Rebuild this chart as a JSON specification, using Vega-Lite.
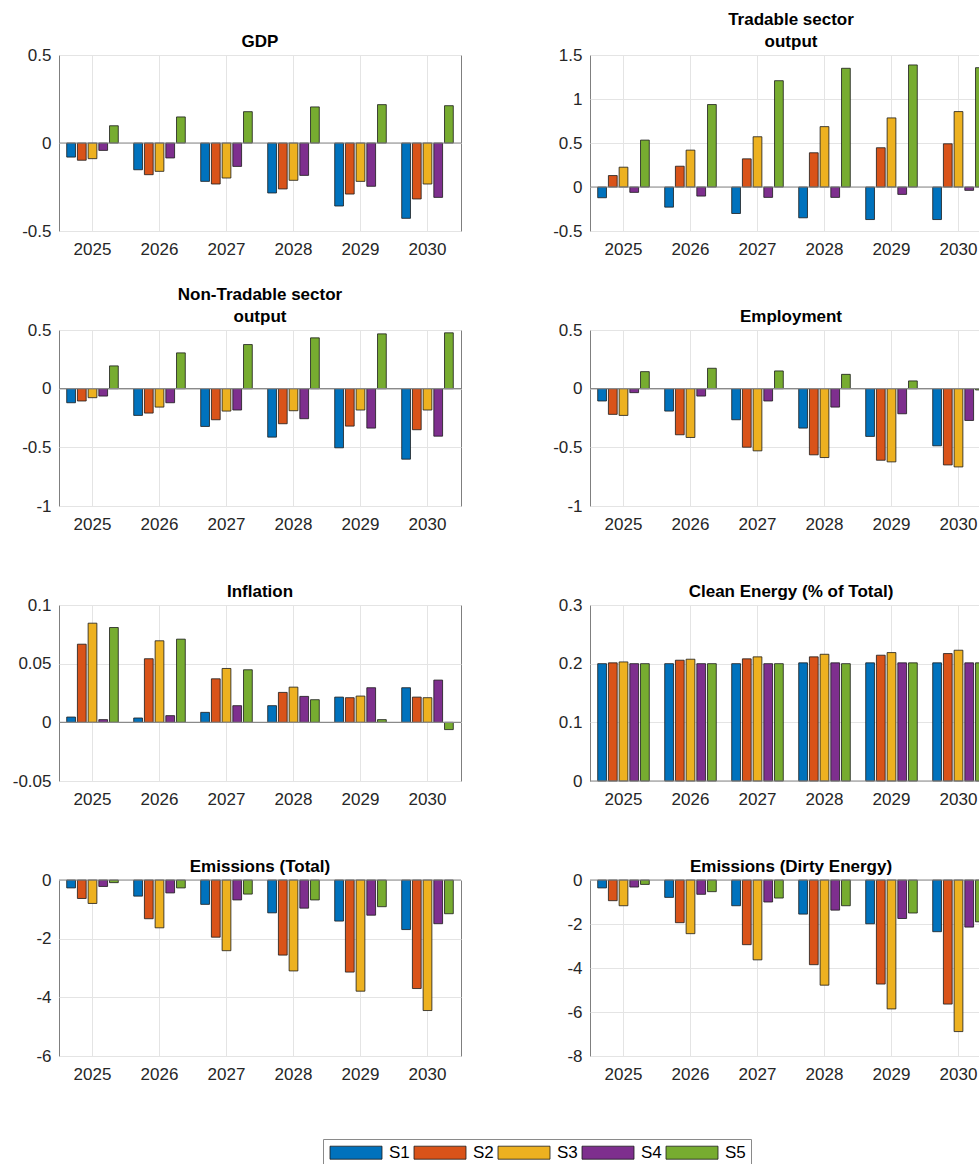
{
  "$schema": "https://vega.github.io/schema/vega-lite/v6.json",
  "padding": {"left": 11, "top": 10, "right": 0, "bottom": 0},
  "data": {"values": [
    {"p":"GDP","y":"2025","s":"S1","v":-0.08},{"p":"GDP","y":"2025","s":"S2","v":-0.098},{"p":"GDP","y":"2025","s":"S3","v":-0.089},{"p":"GDP","y":"2025","s":"S4","v":-0.042},{"p":"GDP","y":"2025","s":"S5","v":0.098},
    {"p":"GDP","y":"2026","s":"S1","v":-0.152},{"p":"GDP","y":"2026","s":"S2","v":-0.18},{"p":"GDP","y":"2026","s":"S3","v":-0.161},{"p":"GDP","y":"2026","s":"S4","v":-0.085},{"p":"GDP","y":"2026","s":"S5","v":0.148},
    {"p":"GDP","y":"2027","s":"S1","v":-0.218},{"p":"GDP","y":"2027","s":"S2","v":-0.233},{"p":"GDP","y":"2027","s":"S3","v":-0.199},{"p":"GDP","y":"2027","s":"S4","v":-0.133},{"p":"GDP","y":"2027","s":"S5","v":0.178},
    {"p":"GDP","y":"2028","s":"S1","v":-0.284},{"p":"GDP","y":"2028","s":"S2","v":-0.261},{"p":"GDP","y":"2028","s":"S3","v":-0.212},{"p":"GDP","y":"2028","s":"S4","v":-0.184},{"p":"GDP","y":"2028","s":"S5","v":0.205},
    {"p":"GDP","y":"2029","s":"S1","v":-0.358},{"p":"GDP","y":"2029","s":"S2","v":-0.29},{"p":"GDP","y":"2029","s":"S3","v":-0.218},{"p":"GDP","y":"2029","s":"S4","v":-0.246},{"p":"GDP","y":"2029","s":"S5","v":0.218},
    {"p":"GDP","y":"2030","s":"S1","v":-0.428},{"p":"GDP","y":"2030","s":"S2","v":-0.318},{"p":"GDP","y":"2030","s":"S3","v":-0.233},{"p":"GDP","y":"2030","s":"S4","v":-0.309},{"p":"GDP","y":"2030","s":"S5","v":0.212},

    {"p":"TR","y":"2025","s":"S1","v":-0.122},{"p":"TR","y":"2025","s":"S2","v":0.13},{"p":"TR","y":"2025","s":"S3","v":0.225},{"p":"TR","y":"2025","s":"S4","v":-0.061},{"p":"TR","y":"2025","s":"S5","v":0.533},
    {"p":"TR","y":"2026","s":"S1","v":-0.229},{"p":"TR","y":"2026","s":"S2","v":0.236},{"p":"TR","y":"2026","s":"S3","v":0.419},{"p":"TR","y":"2026","s":"S4","v":-0.103},{"p":"TR","y":"2026","s":"S5","v":0.937},
    {"p":"TR","y":"2027","s":"S1","v":-0.301},{"p":"TR","y":"2027","s":"S2","v":0.32},{"p":"TR","y":"2027","s":"S3","v":0.571},{"p":"TR","y":"2027","s":"S4","v":-0.118},{"p":"TR","y":"2027","s":"S5","v":1.208},
    {"p":"TR","y":"2028","s":"S1","v":-0.35},{"p":"TR","y":"2028","s":"S2","v":0.389},{"p":"TR","y":"2028","s":"S3","v":0.686},{"p":"TR","y":"2028","s":"S4","v":-0.118},{"p":"TR","y":"2028","s":"S5","v":1.349},
    {"p":"TR","y":"2029","s":"S1","v":-0.37},{"p":"TR","y":"2029","s":"S2","v":0.446},{"p":"TR","y":"2029","s":"S3","v":0.785},{"p":"TR","y":"2029","s":"S4","v":-0.084},{"p":"TR","y":"2029","s":"S5","v":1.387},
    {"p":"TR","y":"2030","s":"S1","v":-0.37},{"p":"TR","y":"2030","s":"S2","v":0.491},{"p":"TR","y":"2030","s":"S3","v":0.857},{"p":"TR","y":"2030","s":"S4","v":-0.038},{"p":"TR","y":"2030","s":"S5","v":1.356},

    {"p":"NT","y":"2025","s":"S1","v":-0.12},{"p":"NT","y":"2025","s":"S2","v":-0.105},{"p":"NT","y":"2025","s":"S3","v":-0.077},{"p":"NT","y":"2025","s":"S4","v":-0.063},{"p":"NT","y":"2025","s":"S5","v":0.194},
    {"p":"NT","y":"2026","s":"S1","v":-0.228},{"p":"NT","y":"2026","s":"S2","v":-0.208},{"p":"NT","y":"2026","s":"S3","v":-0.157},{"p":"NT","y":"2026","s":"S4","v":-0.12},{"p":"NT","y":"2026","s":"S5","v":0.305},
    {"p":"NT","y":"2027","s":"S1","v":-0.322},{"p":"NT","y":"2027","s":"S2","v":-0.265},{"p":"NT","y":"2027","s":"S3","v":-0.191},{"p":"NT","y":"2027","s":"S4","v":-0.182},{"p":"NT","y":"2027","s":"S5","v":0.376},
    {"p":"NT","y":"2028","s":"S1","v":-0.413},{"p":"NT","y":"2028","s":"S2","v":-0.299},{"p":"NT","y":"2028","s":"S3","v":-0.188},{"p":"NT","y":"2028","s":"S4","v":-0.256},{"p":"NT","y":"2028","s":"S5","v":0.433},
    {"p":"NT","y":"2029","s":"S1","v":-0.504},{"p":"NT","y":"2029","s":"S2","v":-0.319},{"p":"NT","y":"2029","s":"S3","v":-0.182},{"p":"NT","y":"2029","s":"S4","v":-0.336},{"p":"NT","y":"2029","s":"S5","v":0.467},
    {"p":"NT","y":"2030","s":"S1","v":-0.601},{"p":"NT","y":"2030","s":"S2","v":-0.35},{"p":"NT","y":"2030","s":"S3","v":-0.182},{"p":"NT","y":"2030","s":"S4","v":-0.405},{"p":"NT","y":"2030","s":"S5","v":0.476},

    {"p":"EM","y":"2025","s":"S1","v":-0.105},{"p":"EM","y":"2025","s":"S2","v":-0.219},{"p":"EM","y":"2025","s":"S3","v":-0.228},{"p":"EM","y":"2025","s":"S4","v":-0.034},{"p":"EM","y":"2025","s":"S5","v":0.145},
    {"p":"EM","y":"2026","s":"S1","v":-0.191},{"p":"EM","y":"2026","s":"S2","v":-0.393},{"p":"EM","y":"2026","s":"S3","v":-0.416},{"p":"EM","y":"2026","s":"S4","v":-0.063},{"p":"EM","y":"2026","s":"S5","v":0.174},
    {"p":"EM","y":"2027","s":"S1","v":-0.265},{"p":"EM","y":"2027","s":"S2","v":-0.499},{"p":"EM","y":"2027","s":"S3","v":-0.53},{"p":"EM","y":"2027","s":"S4","v":-0.105},{"p":"EM","y":"2027","s":"S5","v":0.151},
    {"p":"EM","y":"2028","s":"S1","v":-0.336},{"p":"EM","y":"2028","s":"S2","v":-0.564},{"p":"EM","y":"2028","s":"S3","v":-0.587},{"p":"EM","y":"2028","s":"S4","v":-0.157},{"p":"EM","y":"2028","s":"S5","v":0.122},
    {"p":"EM","y":"2029","s":"S1","v":-0.407},{"p":"EM","y":"2029","s":"S2","v":-0.61},{"p":"EM","y":"2029","s":"S3","v":-0.624},{"p":"EM","y":"2029","s":"S4","v":-0.214},{"p":"EM","y":"2029","s":"S5","v":0.066},
    {"p":"EM","y":"2030","s":"S1","v":-0.487},{"p":"EM","y":"2030","s":"S2","v":-0.65},{"p":"EM","y":"2030","s":"S3","v":-0.667},{"p":"EM","y":"2030","s":"S4","v":-0.271},{"p":"EM","y":"2030","s":"S5","v":-0.011},

    {"p":"IN","y":"2025","s":"S1","v":0.0045},{"p":"IN","y":"2025","s":"S2","v":0.0666},{"p":"IN","y":"2025","s":"S3","v":0.0845},{"p":"IN","y":"2025","s":"S4","v":0.0023},{"p":"IN","y":"2025","s":"S5","v":0.0808},
    {"p":"IN","y":"2026","s":"S1","v":0.0037},{"p":"IN","y":"2026","s":"S2","v":0.0542},{"p":"IN","y":"2026","s":"S3","v":0.0695},{"p":"IN","y":"2026","s":"S4","v":0.0057},{"p":"IN","y":"2026","s":"S5","v":0.0709},
    {"p":"IN","y":"2027","s":"S1","v":0.0085},{"p":"IN","y":"2027","s":"S2","v":0.0371},{"p":"IN","y":"2027","s":"S3","v":0.0459},{"p":"IN","y":"2027","s":"S4","v":0.0142},{"p":"IN","y":"2027","s":"S5","v":0.0448},
    {"p":"IN","y":"2028","s":"S1","v":0.0142},{"p":"IN","y":"2028","s":"S2","v":0.0255},{"p":"IN","y":"2028","s":"S3","v":0.030},{"p":"IN","y":"2028","s":"S4","v":0.0221},{"p":"IN","y":"2028","s":"S5","v":0.0193},
    {"p":"IN","y":"2029","s":"S1","v":0.0215},{"p":"IN","y":"2029","s":"S2","v":0.021},{"p":"IN","y":"2029","s":"S3","v":0.0224},{"p":"IN","y":"2029","s":"S4","v":0.0295},{"p":"IN","y":"2029","s":"S5","v":0.0023},
    {"p":"IN","y":"2030","s":"S1","v":0.0295},{"p":"IN","y":"2030","s":"S2","v":0.0215},{"p":"IN","y":"2030","s":"S3","v":0.021},{"p":"IN","y":"2030","s":"S4","v":0.036},{"p":"IN","y":"2030","s":"S5","v":-0.0062},

    {"p":"CE","y":"2025","s":"S1","v":0.2},{"p":"CE","y":"2025","s":"S2","v":0.2014},{"p":"CE","y":"2025","s":"S3","v":0.203},{"p":"CE","y":"2025","s":"S4","v":0.2},{"p":"CE","y":"2025","s":"S5","v":0.2},
    {"p":"CE","y":"2026","s":"S1","v":0.2},{"p":"CE","y":"2026","s":"S2","v":0.2059},{"p":"CE","y":"2026","s":"S3","v":0.2076},{"p":"CE","y":"2026","s":"S4","v":0.2},{"p":"CE","y":"2026","s":"S5","v":0.2},
    {"p":"CE","y":"2027","s":"S1","v":0.2},{"p":"CE","y":"2027","s":"S2","v":0.2082},{"p":"CE","y":"2027","s":"S3","v":0.2116},{"p":"CE","y":"2027","s":"S4","v":0.2},{"p":"CE","y":"2027","s":"S5","v":0.2},
    {"p":"CE","y":"2028","s":"S1","v":0.2014},{"p":"CE","y":"2028","s":"S2","v":0.2116},{"p":"CE","y":"2028","s":"S3","v":0.216},{"p":"CE","y":"2028","s":"S4","v":0.2014},{"p":"CE","y":"2028","s":"S5","v":0.2},
    {"p":"CE","y":"2029","s":"S1","v":0.2014},{"p":"CE","y":"2029","s":"S2","v":0.2144},{"p":"CE","y":"2029","s":"S3","v":0.2189},{"p":"CE","y":"2029","s":"S4","v":0.2014},{"p":"CE","y":"2029","s":"S5","v":0.2014},
    {"p":"CE","y":"2030","s":"S1","v":0.2014},{"p":"CE","y":"2030","s":"S2","v":0.2172},{"p":"CE","y":"2030","s":"S3","v":0.2229},{"p":"CE","y":"2030","s":"S4","v":0.2014},{"p":"CE","y":"2030","s":"S5","v":0.2014},

    {"p":"ET","y":"2025","s":"S1","v":-0.27},{"p":"ET","y":"2025","s":"S2","v":-0.63},{"p":"ET","y":"2025","s":"S3","v":-0.8},{"p":"ET","y":"2025","s":"S4","v":-0.22},{"p":"ET","y":"2025","s":"S5","v":-0.09},
    {"p":"ET","y":"2026","s":"S1","v":-0.55},{"p":"ET","y":"2026","s":"S2","v":-1.32},{"p":"ET","y":"2026","s":"S3","v":-1.63},{"p":"ET","y":"2026","s":"S4","v":-0.44},{"p":"ET","y":"2026","s":"S5","v":-0.27},
    {"p":"ET","y":"2027","s":"S1","v":-0.83},{"p":"ET","y":"2027","s":"S2","v":-1.95},{"p":"ET","y":"2027","s":"S3","v":-2.41},{"p":"ET","y":"2027","s":"S4","v":-0.68},{"p":"ET","y":"2027","s":"S5","v":-0.48},
    {"p":"ET","y":"2028","s":"S1","v":-1.12},{"p":"ET","y":"2028","s":"S2","v":-2.56},{"p":"ET","y":"2028","s":"S3","v":-3.1},{"p":"ET","y":"2028","s":"S4","v":-0.96},{"p":"ET","y":"2028","s":"S5","v":-0.68},
    {"p":"ET","y":"2029","s":"S1","v":-1.4},{"p":"ET","y":"2029","s":"S2","v":-3.14},{"p":"ET","y":"2029","s":"S3","v":-3.79},{"p":"ET","y":"2029","s":"S4","v":-1.2},{"p":"ET","y":"2029","s":"S5","v":-0.91},
    {"p":"ET","y":"2030","s":"S1","v":-1.69},{"p":"ET","y":"2030","s":"S2","v":-3.7},{"p":"ET","y":"2030","s":"S3","v":-4.45},{"p":"ET","y":"2030","s":"S4","v":-1.49},{"p":"ET","y":"2030","s":"S5","v":-1.15},

    {"p":"ED","y":"2025","s":"S1","v":-0.36},{"p":"ED","y":"2025","s":"S2","v":-0.94},{"p":"ED","y":"2025","s":"S3","v":-1.17},{"p":"ED","y":"2025","s":"S4","v":-0.32},{"p":"ED","y":"2025","s":"S5","v":-0.2},
    {"p":"ED","y":"2026","s":"S1","v":-0.79},{"p":"ED","y":"2026","s":"S2","v":-1.94},{"p":"ED","y":"2026","s":"S3","v":-2.44},{"p":"ED","y":"2026","s":"S4","v":-0.65},{"p":"ED","y":"2026","s":"S5","v":-0.53},
    {"p":"ED","y":"2027","s":"S1","v":-1.17},{"p":"ED","y":"2027","s":"S2","v":-2.94},{"p":"ED","y":"2027","s":"S3","v":-3.63},{"p":"ED","y":"2027","s":"S4","v":-1.0},{"p":"ED","y":"2027","s":"S5","v":-0.82},
    {"p":"ED","y":"2028","s":"S1","v":-1.55},{"p":"ED","y":"2028","s":"S2","v":-3.85},{"p":"ED","y":"2028","s":"S3","v":-4.78},{"p":"ED","y":"2028","s":"S4","v":-1.37},{"p":"ED","y":"2028","s":"S5","v":-1.17},
    {"p":"ED","y":"2029","s":"S1","v":-1.99},{"p":"ED","y":"2029","s":"S2","v":-4.73},{"p":"ED","y":"2029","s":"S3","v":-5.86},{"p":"ED","y":"2029","s":"S4","v":-1.75},{"p":"ED","y":"2029","s":"S5","v":-1.5},
    {"p":"ED","y":"2030","s":"S1","v":-2.35},{"p":"ED","y":"2030","s":"S2","v":-5.64},{"p":"ED","y":"2030","s":"S3","v":-6.89},{"p":"ED","y":"2030","s":"S4","v":-2.14},{"p":"ED","y":"2030","s":"S5","v":-1.9}
  ]},
  "columns": 2,
  "spacing": {"row": 27, "column": 81},
  "concat": [
    {"title": {"text": ["", "GDP"]}, "width": 402, "height": 176, "transform": [{"filter": {"field": "p", "equal": "GDP"}}],
     "layer": [
      {"mark": {"type": "bar", "stroke": "#1a1a1a", "strokeWidth": 0.8}, "encoding": {
        "x": {"field": "y", "type": "nominal", "title": null, "scale": {"paddingInner": 0, "paddingOuter": 0}},
        "xOffset": {"field": "s", "scale": {"paddingInner": 0.18, "paddingOuter": 0.72}},
        "y": {"field": "v", "type": "quantitative", "title": null, "scale": {"domain": [-0.5, 0.5], "nice": false, "zero": false}, "axis": {"values": [-0.5, 0, 0.5]}},
        "color": {"field": "s", "type": "nominal", "scale": {"domain": ["S1","S2","S3","S4","S5"], "range": ["#0072BD","#D95319","#EDB120","#7E2F8E","#77AC30"]},
          "legend": {"orient": "none", "legendX": 264, "legendY": 1084, "direction": "horizontal", "title": null, "strokeColor": "#8a8a8a", "fillColor": "#ffffff", "padding": 5, "labelFontSize": 17, "labelFont": "Liberation Sans", "labelColor": "#000000", "symbolType": "M-1,-1H7V1H-1Z", "symbolSize": 169, "symbolStrokeColor": "#1a1a1a", "symbolStrokeWidth": 0.8, "symbolOpacity": 1, "labelOffset": 44, "columnPadding": 2}}}},
      {"transform": [{"filter": "datum.s == 'S1' && datum.y == '2025'"}], "mark": {"type": "rule", "color": "#8a8a8a", "strokeWidth": 1.2}, "encoding": {"y": {"datum": 0}}}
     ]},
    {"title": {"text": ["Tradable sector", "output"]}, "width": 402, "height": 176, "transform": [{"filter": {"field": "p", "equal": "TR"}}],
     "layer": [
      {"mark": {"type": "bar", "stroke": "#1a1a1a", "strokeWidth": 0.8}, "encoding": {
        "x": {"field": "y", "type": "nominal", "title": null, "scale": {"paddingInner": 0, "paddingOuter": 0}},
        "xOffset": {"field": "s", "scale": {"paddingInner": 0.18, "paddingOuter": 0.72}},
        "y": {"field": "v", "type": "quantitative", "title": null, "scale": {"domain": [-0.5, 1.5], "nice": false, "zero": false}, "axis": {"values": [-0.5, 0, 0.5, 1, 1.5]}},
        "color": {"field": "s", "type": "nominal"}}},
      {"transform": [{"filter": "datum.s == 'S1' && datum.y == '2025'"}], "mark": {"type": "rule", "color": "#8a8a8a", "strokeWidth": 1.2}, "encoding": {"y": {"datum": 0}}}
     ]},
    {"title": {"text": ["Non-Tradable sector", "output"]}, "width": 402, "height": 176, "transform": [{"filter": {"field": "p", "equal": "NT"}}],
     "layer": [
      {"mark": {"type": "bar", "stroke": "#1a1a1a", "strokeWidth": 0.8}, "encoding": {
        "x": {"field": "y", "type": "nominal", "title": null, "scale": {"paddingInner": 0, "paddingOuter": 0}},
        "xOffset": {"field": "s", "scale": {"paddingInner": 0.18, "paddingOuter": 0.72}},
        "y": {"field": "v", "type": "quantitative", "title": null, "scale": {"domain": [-1, 0.5], "nice": false, "zero": false}, "axis": {"values": [-1, -0.5, 0, 0.5]}},
        "color": {"field": "s", "type": "nominal"}}},
      {"transform": [{"filter": "datum.s == 'S1' && datum.y == '2025'"}], "mark": {"type": "rule", "color": "#8a8a8a", "strokeWidth": 1.2}, "encoding": {"y": {"datum": 0}}}
     ]},
    {"title": {"text": ["", "Employment"]}, "width": 402, "height": 176, "transform": [{"filter": {"field": "p", "equal": "EM"}}],
     "layer": [
      {"mark": {"type": "bar", "stroke": "#1a1a1a", "strokeWidth": 0.8}, "encoding": {
        "x": {"field": "y", "type": "nominal", "title": null, "scale": {"paddingInner": 0, "paddingOuter": 0}},
        "xOffset": {"field": "s", "scale": {"paddingInner": 0.18, "paddingOuter": 0.72}},
        "y": {"field": "v", "type": "quantitative", "title": null, "scale": {"domain": [-1, 0.5], "nice": false, "zero": false}, "axis": {"values": [-1, -0.5, 0, 0.5]}},
        "color": {"field": "s", "type": "nominal"}}},
      {"transform": [{"filter": "datum.s == 'S1' && datum.y == '2025'"}], "mark": {"type": "rule", "color": "#8a8a8a", "strokeWidth": 1.2}, "encoding": {"y": {"datum": 0}}}
     ]},
    {"title": {"text": ["", "Inflation"]}, "width": 402, "height": 176, "transform": [{"filter": {"field": "p", "equal": "IN"}}],
     "layer": [
      {"mark": {"type": "bar", "stroke": "#1a1a1a", "strokeWidth": 0.8}, "encoding": {
        "x": {"field": "y", "type": "nominal", "title": null, "scale": {"paddingInner": 0, "paddingOuter": 0}},
        "xOffset": {"field": "s", "scale": {"paddingInner": 0.18, "paddingOuter": 0.72}},
        "y": {"field": "v", "type": "quantitative", "title": null, "scale": {"domain": [-0.05, 0.1], "nice": false, "zero": false}, "axis": {"values": [-0.05, 0, 0.05, 0.1]}},
        "color": {"field": "s", "type": "nominal"}}},
      {"transform": [{"filter": "datum.s == 'S1' && datum.y == '2025'"}], "mark": {"type": "rule", "color": "#8a8a8a", "strokeWidth": 1.2}, "encoding": {"y": {"datum": 0}}}
     ]},
    {"title": {"text": ["", "Clean Energy (% of Total)"]}, "width": 402, "height": 176, "transform": [{"filter": {"field": "p", "equal": "CE"}}],
     "layer": [
      {"mark": {"type": "bar", "stroke": "#1a1a1a", "strokeWidth": 0.8}, "encoding": {
        "x": {"field": "y", "type": "nominal", "title": null, "scale": {"paddingInner": 0, "paddingOuter": 0}},
        "xOffset": {"field": "s", "scale": {"paddingInner": 0.18, "paddingOuter": 0.72}},
        "y": {"field": "v", "type": "quantitative", "title": null, "scale": {"domain": [0, 0.3], "nice": false, "zero": false}, "axis": {"values": [0, 0.1, 0.2, 0.3]}},
        "color": {"field": "s", "type": "nominal"}}},
      {"transform": [{"filter": "datum.s == 'S1' && datum.y == '2025'"}], "mark": {"type": "rule", "color": "#8a8a8a", "strokeWidth": 1.2}, "encoding": {"y": {"datum": 0}}}
     ]},
    {"title": {"text": ["", "Emissions (Total)"]}, "width": 402, "height": 176, "transform": [{"filter": {"field": "p", "equal": "ET"}}],
     "layer": [
      {"mark": {"type": "bar", "stroke": "#1a1a1a", "strokeWidth": 0.8}, "encoding": {
        "x": {"field": "y", "type": "nominal", "title": null, "scale": {"paddingInner": 0, "paddingOuter": 0}},
        "xOffset": {"field": "s", "scale": {"paddingInner": 0.18, "paddingOuter": 0.72}},
        "y": {"field": "v", "type": "quantitative", "title": null, "scale": {"domain": [-6, 0], "nice": false, "zero": false}, "axis": {"values": [-6, -4, -2, 0]}},
        "color": {"field": "s", "type": "nominal"}}},
      {"transform": [{"filter": "datum.s == 'S1' && datum.y == '2025'"}], "mark": {"type": "rule", "color": "#8a8a8a", "strokeWidth": 1.2}, "encoding": {"y": {"datum": 0}}}
     ]},
    {"title": {"text": ["", "Emissions (Dirty Energy)"]}, "width": 402, "height": 176, "transform": [{"filter": {"field": "p", "equal": "ED"}}],
     "layer": [
      {"mark": {"type": "bar", "stroke": "#1a1a1a", "strokeWidth": 0.8}, "encoding": {
        "x": {"field": "y", "type": "nominal", "title": null, "scale": {"paddingInner": 0, "paddingOuter": 0}},
        "xOffset": {"field": "s", "scale": {"paddingInner": 0.18, "paddingOuter": 0.72}},
        "y": {"field": "v", "type": "quantitative", "title": null, "scale": {"domain": [-8, 0], "nice": false, "zero": false}, "axis": {"values": [-8, -6, -4, -2, 0]}},
        "color": {"field": "s", "type": "nominal"}}},
      {"transform": [{"filter": "datum.s == 'S1' && datum.y == '2025'"}], "mark": {"type": "rule", "color": "#8a8a8a", "strokeWidth": 1.2}, "encoding": {"y": {"datum": 0}}}
     ]}
  ],
  "resolve": {"scale": {"y": "independent", "x": "independent", "xOffset": "independent"}},
  "config": {
    "font": "Liberation Sans",
    "view": {"stroke": "#7f7f7f", "strokeWidth": 1},
    "axis": {"domain": false, "ticks": false, "grid": true, "gridColor": "#e4e4e4", "gridWidth": 1, "labelFont": "Liberation Sans", "labelFontSize": 17, "labelColor": "#262626", "labelPadding": 8},
    "axisY": {"minExtent": 45, "maxExtent": 45, "labelExpr": "toString(datum.value)"},
    "axisX": {"labelAngle": 0, "bandPosition": 0.5, "labelPadding": 10},
    "title": {"font": "Liberation Sans", "fontSize": 17, "fontWeight": "bold", "color": "#000000", "offset": -5, "lineHeight": 22, "anchor": "middle"}
  }
}
